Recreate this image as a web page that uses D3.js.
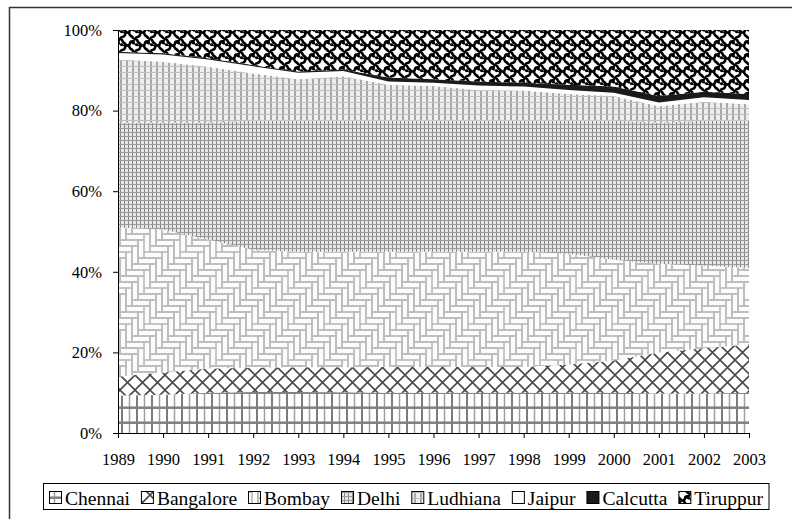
<!DOCTYPE html>
<html>
<head>
<meta charset="utf-8">
<script src="https://cdn.jsdelivr.net/npm/d3@7"></script>
<style>
  html, body { margin: 0; padding: 0; background: #fff; }
  svg { display: block; }
  svg text { font-family: "Liberation Serif", "Times New Roman", Times, serif !important; fill: #000; }
</style>
</head>
<body>
<svg id="chart" width="792" height="519"></svg>
<script>
// ---- data (percent shares) ----
const years = ["1989","1990","1991","1992","1993","1994","1995","1996","1997","1998","1999","2000","2001","2002","2003"];
const seriesNames = ["Chennai","Bangalore","Bombay","Delhi","Ludhiana","Jaipur","Calcutta","Tiruppur"];
const chennai   = [9.3, 9.5, 10.0, 10.2, 10.2, 10.1, 10.0, 10.0, 10.0, 10.0, 10.0, 10.0, 9.8, 9.8, 10.0];
const bangalore = [4.7, 5.5, 6.0, 6.0, 6.1, 6.2, 6.4, 6.4, 6.4, 6.4, 7.0, 8.0, 10.2, 11.2, 12.0];
const bombay    = [37.0, 35.5, 32.0, 29.3, 28.7, 28.7, 28.6, 28.6, 28.6, 28.6, 27.5, 25.0, 22.0, 20.5, 19.0];
const delhi     = [26.0, 26.5, 29.0, 32.0, 32.5, 32.5, 32.5, 32.5, 32.5, 32.5, 33.0, 34.5, 35.0, 36.0, 36.5];
const ludhiana  = [15.7, 15.1, 13.9, 11.7, 10.3, 11.0, 8.9, 8.6, 7.6, 7.5, 6.6, 6.1, 4.1, 4.7, 4.1];
const jaipur    = [1.6, 1.8, 1.8, 1.8, 1.6, 1.3, 0.8, 0.8, 1.1, 1.0, 1.0, 0.8, 0.9, 1.1, 1.0];
const calcutta  = [0.3, 0.3, 0.3, 0.3, 0.3, 0.4, 1.0, 0.9, 1.0, 0.9, 1.3, 1.6, 1.6, 1.4, 1.5];
const tiruppur  = [5.4, 5.8, 7.0, 8.7, 10.3, 9.8, 11.8, 12.2, 12.8, 13.1, 13.6, 14.0, 16.4, 15.3, 15.9];
const yTicks = [0, 20, 40, 60, 80, 100];

const seriesValues = [chennai, bangalore, bombay, delhi, ludhiana, jaipur, calcutta, tiruppur];
const rows = years.map((yr, i) => {
  const r = { year: yr };
  seriesNames.forEach((n, k) => r[n] = seriesValues[k][i]);
  return r;
});

const FONT = "'Liberation Serif', 'Times New Roman', Times, serif";
const svg = d3.select("#chart");
const defs = svg.append("defs");

// ---- patterns ----
function pat(id, w, h) {
  return defs.append("pattern").attr("id", id)
    .attr("patternUnits", "userSpaceOnUse").attr("width", w).attr("height", h);
}
// Chennai: white with vertical lines and wide-spaced horizontal lines
{
  const p = pat("pChennai", 15, 15);
  p.append("rect").attr("width", 15).attr("height", 15).attr("fill", "#fff");
  p.append("line").attr("x1", 2).attr("x2", 2).attr("y1", 0).attr("y2", 15).attr("stroke", "#505050").attr("stroke-width", 1.5);
  p.append("line").attr("x1", 9.5).attr("x2", 9.5).attr("y1", 0).attr("y2", 15).attr("stroke", "#a0a0a0").attr("stroke-width", 1.5);
  p.append("line").attr("x1", 0).attr("x2", 15).attr("y1", 2.7).attr("y2", 2.7).attr("stroke", "#808080").attr("stroke-width", 2.5);
}
// Bangalore: diagonal crosshatch
{
  const p = pat("pBangalore", 15, 15);
  p.append("rect").attr("width", 15).attr("height", 15).attr("fill", "#fff");
  p.append("path").attr("d", "M0,0 L15,15 M15,0 L0,15").attr("stroke", "#4a4a4a").attr("stroke-width", 1.6);
}
// Bombay: herringbone of light grey bricks
{
  const Wb = 6, Lb = 18, T = 6 * Wb;
  const p = pat("pBombay", T, T);
  p.append("rect").attr("width", T).attr("height", T).attr("fill", "#fcfcfc");
  const g = p.append("g").attr("fill", "none").attr("stroke", "#bdbdbd").attr("stroke-width", 1.7);
  for (let n = -6; n <= 6; n++) {
    for (let m = -14; m <= 14; m++) {
      const ox = n * (Lb + Wb) - m * Wb;
      const oy = n * (Lb - Wb) + m * Wb;
      if (ox < T && ox + Lb > 0 && oy < T && oy + Wb > 0)
        g.append("rect").attr("x", ox).attr("y", oy).attr("width", Lb).attr("height", Wb);
      const vx = ox + Lb, vy = oy;
      if (vx < T && vx + Wb > 0 && vy < T && vy + Lb > 0)
        g.append("rect").attr("x", vx).attr("y", vy).attr("width", Wb).attr("height", Lb);
    }
  }
}
// Delhi: fine grid
{
  const p = pat("pDelhi", 4, 4);
  p.append("rect").attr("width", 4).attr("height", 4).attr("fill", "#e6e6e6");
  p.append("line").attr("x1", 0.5).attr("x2", 0.5).attr("y1", 0).attr("y2", 4).attr("stroke", "#878787").attr("stroke-width", 1);
  p.append("line").attr("x1", 0).attr("x2", 4).attr("y1", 0.5).attr("y2", 0.5).attr("stroke", "#9c9c9c").attr("stroke-width", 1);
}
// Ludhiana: light grid with vertical stripes
{
  const p = pat("pLudhiana", 6, 6);
  p.append("rect").attr("width", 6).attr("height", 6).attr("fill", "#eeeeee");
  p.append("line").attr("x1", 1).attr("x2", 1).attr("y1", 0).attr("y2", 6).attr("stroke", "#a8a8a8").attr("stroke-width", 2);
  p.append("line").attr("x1", 0).attr("x2", 6).attr("y1", 0.5).attr("y2", 0.5).attr("stroke", "#c0c0c0").attr("stroke-width", 1);
}
// Tiruppur: black wavy motif on white
{
  const p = pat("pTiruppur", 15, 13);
  p.append("rect").attr("width", 15).attr("height", 13).attr("fill", "#fff");
  p.append("path")
    .attr("d", "M0,13 C1,10 4,12 5,9 C6,7 3,6 7.5,6.5 C11,7 9,3 11,2.5 C13,2 14,3 15,0 " +
               "M0,0 C3,0 2,3 4,4 C6,5 5,6 7.5,6.5 C10,7 9,9 11,10 C13,11 13,13 15,13 " +
               "M11,2.5 C12,4 14,4 15,5 M0,5 C1,6 2,5 2.5,7")
    .attr("fill", "none").attr("stroke", "#000").attr("stroke-width", 2.6);
}

const fills = {
  Chennai: "url(#pChennai)", Bangalore: "url(#pBangalore)", Bombay: "url(#pBombay)",
  Delhi: "url(#pDelhi)", Ludhiana: "url(#pLudhiana)", Jaipur: "#ffffff",
  Calcutta: "#1a1a1a", Tiruppur: "url(#pTiruppur)"
};

// ---- chart frame ----
svg.append("rect").attr("x", 9.5).attr("y", 7.5).attr("width", 800).attr("height", 530)
  .attr("fill", "none").attr("stroke", "#333").attr("stroke-width", 1.5);

// ---- scales ----
const x = d3.scalePoint().domain(years).range([118, 749]);
const y = d3.scaleLinear().domain([0, 100]).range([433, 30]);

const layers = d3.stack().keys(seriesNames)(rows);
const area = d3.area()
  .x(d => x(d.data.year))
  .y0(d => y(d[0]))
  .y1(d => y(Math.min(100, d[1])));

svg.append("g").selectAll("path").data(layers).join("path")
  .attr("d", area)
  .attr("fill", d => fills[d.key])
  .attr("stroke", "none");

// ---- axes ----
const yAxis = d3.axisLeft(y).tickValues(yTicks).tickFormat(d => d + "%")
  .tickSize(5).tickSizeOuter(0).tickPadding(11);
const gy = svg.append("g").attr("transform", "translate(118,0)").call(yAxis)
  .attr("font-family", FONT).attr("font-size", 16.5);
gy.selectAll("text").attr("font-family", FONT).style("font-size", "16.5px");
gy.selectAll("line,path").attr("stroke", "#000");

const xAxis = d3.axisBottom(x).tickSize(5).tickSizeOuter(0).tickPadding(15);
const gx = svg.append("g").attr("transform", "translate(0,433)").call(xAxis)
  .attr("font-family", FONT).attr("font-size", 16.5);
gx.selectAll("text").attr("font-family", FONT).style("font-size", "16.5px");
gx.selectAll("line,path").attr("stroke", "#000");

// ---- legend ----
const legY = 483, legH = 26;
svg.append("rect").attr("x", 43.5).attr("y", legY + 0.5).attr("width", 725.5).attr("height", legH)
  .attr("fill", "#fff").attr("stroke", "#000").attr("stroke-width", 1);
const lg = svg.append("g");
const items = seriesNames.map(n => {
  const g = lg.append("g");
  g.append("rect").attr("width", 12).attr("height", 12).attr("y", legY + 8.5)
    .attr("fill", fills[n]).attr("stroke", "#000").attr("stroke-width", 1);
  const t = g.append("text").attr("y", legY + 21.5)
    .attr("font-family", FONT).style("font-size", "19.5px").text(n);
  return { g, t, w: t.node().getComputedTextLength() };
});
const iconW = 13, gap = 3;
const startX = 49, endX = 763;
const totalText = d3.sum(items, d => d.w);
const spacing = (endX - startX - totalText - items.length * (iconW + gap)) / (items.length - 1);
let cx = startX;
items.forEach(it => {
  it.g.select("rect").attr("x", cx + 0.5);
  it.t.attr("x", cx + iconW + gap);
  cx += iconW + gap + it.w + spacing;
});
</script>
</body>
</html>
